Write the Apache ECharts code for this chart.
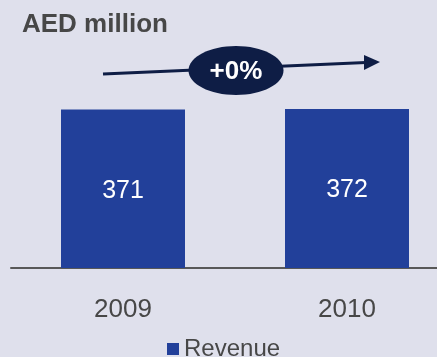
<!DOCTYPE html>
<html>
<head>
<meta charset="utf-8">
<script src="https://cdn.jsdelivr.net/npm/echarts@6/dist/echarts.min.js"></script>
<style>
  html, body { margin: 0; padding: 0; background: #DFE0EC; overflow: hidden; }
  /* chart is wider than the window: the axis runs past the right edge */
  #chart { width: 459px; height: 357px; }
</style>
</head>
<body>
<div id="chart"></div>
<script>
// data
const years = ['2009', '2010'];
const revenue = [371, 372];
const seriesName = 'Revenue';
const unitTitle = 'AED million';

const FONT = '"Liberation Sans", Arial, sans-serif';

// growth between first and last year
const growth = Math.round((revenue[revenue.length - 1] - revenue[0]) / revenue[0] * 100);
const growthText = (growth >= 0 ? '+' : '') + growth + '%';

const chart = echarts.init(document.getElementById('chart'));

const option = {
  backgroundColor: '#DFE0EC',
  animation: false,
  title: {
    text: unitTitle,
    left: 17,
    top: 7,
    textStyle: {
      fontFamily: FONT,
      fontSize: 26,
      fontWeight: 'bold',
      color: '#474747',
    },
  },
  legend: {
    data: [seriesName],
    left: 162,
    top: 332,
    itemWidth: 12,
    itemHeight: 12,
    icon: 'rect',
    textStyle: {
      fontFamily: FONT,
      fontSize: 24,
      color: '#474747',
    },
  },
  grid: {
    left: 11,
    right: 0,
    top: 97,
    bottom: 89,
    containLabel: false,
  },
  xAxis: {
    type: 'category',
    data: years,
    axisLine: {
      lineStyle: { color: '#585858', width: 2 },
    },
    axisTick: { show: false },
    axisLabel: {
      fontFamily: FONT,
      fontSize: 26,
      color: '#474747',
      margin: 29,
    },
  },
  yAxis: {
    type: 'value',
    min: 0,
    max: 400,
    show: false,
    splitLine: { show: false },
  },
  series: [
    {
      name: seriesName,
      type: 'bar',
      data: revenue,
      barWidth: 124,
      itemStyle: {
        color: '#22409A',
      },
      label: {
        show: true,
        position: 'inside',
        fontFamily: FONT,
        fontSize: 25,
        color: '#FFFFFF',
        offset: [0, 2],
      },
    },
  ],
  graphic: [
    // trend arrow
    {
      type: 'line',
      shape: { x1: 103, y1: 74, x2: 366, y2: 62.5 },
      style: { stroke: '#0E1D45', lineWidth: 3 },
    },
    {
      type: 'polygon',
      shape: { points: [[364, 55], [380, 62], [364, 70]] },
      style: { fill: '#0E1D45' },
    },
    {
      type: 'ellipse',
      shape: { cx: 236, cy: 70.5, rx: 47.5, ry: 24.5 },
      style: { fill: '#0E1D45' },
    },
    {
      type: 'text',
      x: 236,
      y: 72,
      style: {
        text: growthText,
        fill: '#FFFFFF',
        font: 'bold 26px ' + FONT,
        align: 'center',
        verticalAlign: 'middle',
      },
    },
  ],
};

chart.setOption(option);
</script>
</body>
</html>
